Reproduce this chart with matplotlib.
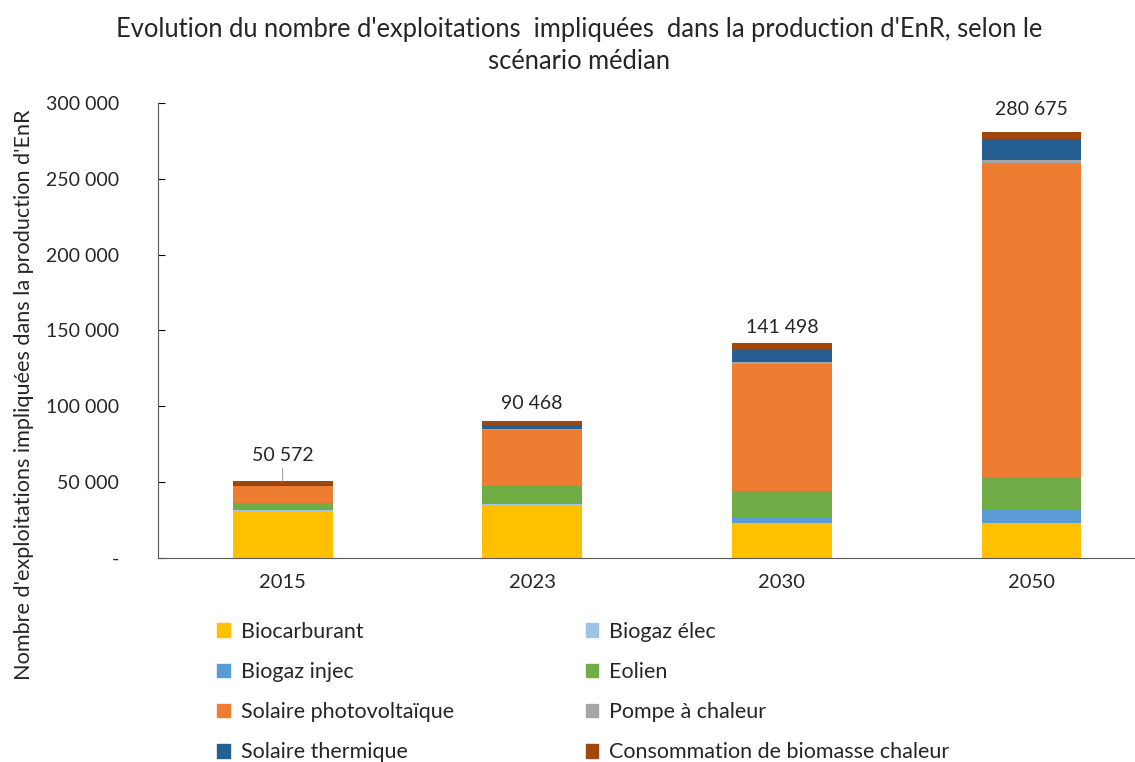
import matplotlib
matplotlib.use("Agg")
import matplotlib.pyplot as plt
from matplotlib.ticker import FuncFormatter
from matplotlib.patches import Patch
import numpy as np

plt.rcParams['font.family'] = ['Lato', 'DejaVu Sans']

years = ['2015', '2023', '2030', '2050']
totals = [50572, 90468, 141498, 280675]

biocarburant = [31000, 34500, 22000, 22000]
biogaz_elec = [200, 1000, 800, 1000]
biogaz_injec = [100, 600, 4200, 9200]
eolien = [4800, 11400, 16900, 20900]
solaire_pv = [11000, 36900, 84000, 207000]
pompe_chaleur = [300, 500, 1500, 2000]
solaire_thermique = [300, 2900, 7700, 13800]
biomasse_chaleur = [2900, 2600, 4400, 4800]

series = [
    ('Biocarburant', biocarburant, '#FFC000'),
    ('Biogaz élec', biogaz_elec, '#9DC3E6'),
    ('Biogaz injec', biogaz_injec, '#5B9BD5'),
    ('Eolien', eolien, '#70AD47'),
    ('Solaire photovoltaïque', solaire_pv, '#ED7D31'),
    ('Pompe à chaleur', pompe_chaleur, '#A5A5A5'),
    ('Solaire thermique', solaire_thermique, '#255E91'),
    ('Consommation de biomasse chaleur', biomasse_chaleur, '#9E480E'),
]

fig = plt.figure(figsize=(11.35, 7.62), dpi=100)
ax = fig.add_axes([0.139, 0.268, 0.86, 0.597])

x = np.arange(len(years))
bottom = np.zeros(len(years))
for name, vals, col in series:
    ax.bar(x, vals, 0.4, bottom=bottom, color=col, label=name)
    bottom += np.array(vals)

# total labels
offsets = [(0, 12), (0, 6), (0, 5), (0, 10.5)]
for i, t in enumerate(totals):
    lab = f"{t:,}".replace(',', ' ')
    if i == 0:
        ax.annotate(lab, (x[i], bottom[i]), xytext=offsets[i], textcoords='offset points',
                    ha='center', va='bottom', fontsize=14, color='#262626',
                    arrowprops=dict(arrowstyle='-', color='#A5A5A5', lw=0.8, shrinkA=1, shrinkB=0))
    else:
        ax.annotate(lab, (x[i], bottom[i]), xytext=offsets[i], textcoords='offset points',
                    ha='center', va='bottom', fontsize=14, color='#262626')

ax.set_xlim(-0.5, 3.41)
ax.set_ylim(0, 300000)
ax.set_xticks(x)
ax.set_xticklabels(years)
ax.set_yticks(np.arange(0, 300001, 50000))
ax.yaxis.set_major_formatter(FuncFormatter(lambda v, p: '-' if v == 0 else f"{int(v):,}".replace(',', ' ')))
ax.tick_params(axis='y', direction='in', length=5, labelsize=14, labelcolor='#262626', pad=28)
ax.tick_params(axis='x', length=0, labelsize=14.5, labelcolor='#262626', pad=12)
ax.spines['top'].set_visible(False)
ax.spines['right'].set_visible(False)
ax.spines['left'].set_color('#595959')
ax.spines['bottom'].set_color('#595959')

ax.set_ylabel("Nombre d'exploitations impliquées dans la production d'EnR",
              fontsize=15.6, color='#262626')
ax.yaxis.set_label_coords(-0.127, 0.358)

fig.suptitle("Evolution du nombre d'exploitations  impliquées  dans la production d'EnR, selon le\nscénario médian",
             x=0.51, y=0.978, fontsize=18.4, color='#262626', linespacing=1.36)

handles = [Patch(color=c, label=n) for n, v, c in series]
order = [0, 2, 4, 6, 1, 3, 5, 7]
fig.legend([handles[i] for i in order], [series[i][0] for i in order], ncol=2,
           loc='upper left', bbox_to_anchor=(0.1745, 0.2095), frameon=False,
           fontsize=15.5, handlelength=0.6, handleheight=0.6, handletextpad=0.5,
           columnspacing=6.1, labelspacing=0.94, labelcolor='#262626')

fig.savefig('out.png', dpi=100)
